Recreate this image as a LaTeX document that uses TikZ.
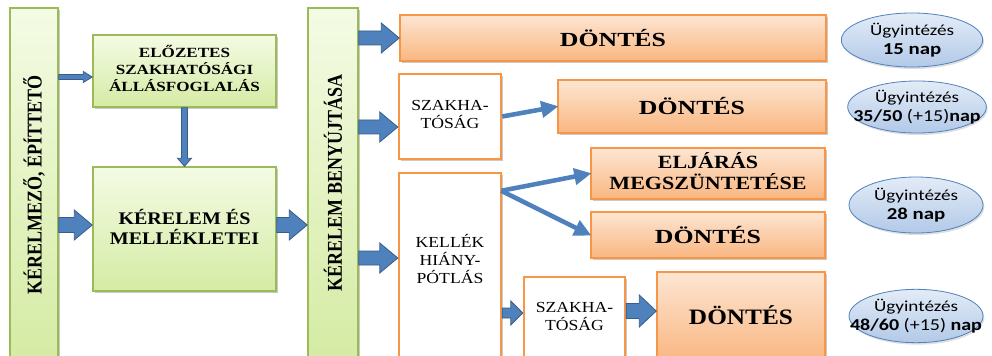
\documentclass[tikz,border=0pt]{standalone}
\usepackage{fontspec}
\usepackage{graphicx}
\setmainfont{Liberation Serif}
\newfontfamily\calib{Carlito}
\usetikzlibrary{shadows,calc,fit,arrows.meta,shapes.geometric}
\definecolor{gborder}{HTML}{9BBB59}
\definecolor{gtop}{HTML}{F4FBE4}
\definecolor{gbot}{HTML}{D5EBA4}
\definecolor{oborder}{HTML}{F79646}
\definecolor{otop}{HTML}{FDE6D3}
\definecolor{obot}{HTML}{F9B680}
\definecolor{bfill}{HTML}{4F81BD}
\definecolor{bline}{HTML}{385D8A}
\definecolor{etop}{HTML}{E3ECF7}
\definecolor{ebot}{HTML}{B2C9E8}
\newcommand\hs[2]{\scalebox{#1}[1]{#2}}
% horizontal block arrow: start, end, body half, head half, head length
\newcommand\harrow[5]{\draw[blockarr] ($(#1)+(0,#3)$) -- ($(#2)+(-#5,#3)$) -- ($(#2)+(-#5,#4)$) -- (#2) -- ($(#2)+(-#5,-#4)$) -- ($(#2)+(-#5,-#3)$) -- ($(#1)+(0,-#3)$) -- cycle;}
% vertical (downward) block arrow
\newcommand\varrow[5]{\draw[blockarr] ($(#1)+(#3,0)$) -- ($(#2)+(#3,-#5)$) -- ($(#2)+(#4,-#5)$) -- (#2) -- ($(#2)+(-#4,-#5)$) -- ($(#2)+(-#3,-#5)$) -- ($(#1)+(-#3,0)$) -- cycle;}
\begin{document}
\begin{tikzpicture}[x=0.75pt,y=-0.75pt,
  box/.style={inner sep=0pt, drop shadow={opacity=0.35,shadow xshift=1.5pt,shadow yshift=-1.5pt,fill=black!60}},
  greenbox/.style={box, draw=gborder, line width=1.1pt, top color=gtop, bottom color=gbot, align=center},
  orangebox/.style={box, draw=oborder, line width=1.1pt, top color=otop, bottom color=obot, align=center},
  whitebox/.style={box, draw=oborder, line width=1.8pt, fill=white, align=center},
  ell/.style={ellipse, draw=bfill, line width=0.6pt, top color=etop, bottom color=ebot, inner sep=0pt,
     drop shadow={opacity=0.25,shadow xshift=1pt,shadow yshift=-1.5pt}},
  elltext/.style={align=center, inner sep=0pt, font=\calib\fontsize{11.5}{14.5}\selectfont},
  blockarr/.style={fill=bfill, draw=bline, line width=0.6pt, line join=miter},
  thinarr/.style={draw=bfill, line width=3.4pt, -{Triangle[length=13pt,width=12pt]}, shorten >=-1pt},
  dtext/.style={font=\bfseries\fontsize{15}{18}\selectfont}
]
\useasboundingbox (0,0) rectangle (992,356);
\fill[white] (0,0) rectangle (992,356);

% left column
\node[greenbox, fit={(10,8) (58,360)}] (bar1) {};
\node at (bar1.center |- 0,185) {\rotatebox{90}{\scalebox{1}[1.17]{\bfseries\fontsize{13.5}{16}\selectfont KÉRELMEZŐ, ÉPÍTTETŐ}}};
\node[greenbox, fit={(93,35) (276,107)}] (pre) {};
\node at (pre.center) {\hs{1.22}{\begin{tabular}{@{}c@{}}\bfseries\fontsize{10.5}{12}\selectfont ELŐZETES\\[0pt]\bfseries\fontsize{10.5}{12}\selectfont SZAKHATÓSÁGI\\\bfseries\fontsize{10.5}{12}\selectfont ÁLLÁSFOGLALÁS\end{tabular}}};
\node[greenbox, fit={(93,167) (276,291)}] (ker) {};
\node at (ker.center) {\hs{1.13}{\begin{tabular}{@{}c@{}}\bfseries\fontsize{13.3}{16.5}\selectfont KÉRELEM ÉS\\\bfseries\fontsize{13.3}{16.5}\selectfont MELLÉKLETEI\end{tabular}}};
\node[greenbox, fit={(308,8) (358,360)}] (bar2) {};
\node at (bar2.center |- 0,183) {\rotatebox{90}{\scalebox{1}[1.17]{\bfseries\fontsize{13.5}{16}\selectfont KÉRELEM BENYÚJTÁSA}}};

% right side boxes
\node[orangebox, fit={(400,15) (826,61)}] (d1) {};
\node[dtext] at (d1.center) {\hs{1.29}{DÖNTÉS}};
\node[whitebox, fit={(399,74) (501,159)}] (sz1) {};
\node at (sz1.center) {\hs{1.15}{\begin{tabular}{@{}c@{}}\fontsize{11.5}{12.5}\selectfont SZAKHA-\\\fontsize{11.5}{12.5}\selectfont TÓSÁG\end{tabular}}};
\node[orangebox, fit={(558,80) (826,133)}] (d2) {};
\node[dtext] at (d2.center) {\hs{1.29}{DÖNTÉS}};
\node[whitebox, fit={(399,173) (501,362)}] (kel) {};
\node at (399+51,261) (keltext) {\hs{1.15}{\begin{tabular}{@{}c@{}}\fontsize{11.5}{13}\selectfont KELLÉK\\\fontsize{11.5}{13}\selectfont HIÁNY-\\\fontsize{11.5}{13}\selectfont PÓTLÁS\end{tabular}}};
\node[orangebox, fit={(591,148) (825,199)}] (elj) {};
\node at (elj.center) {\hs{1.18}{\begin{tabular}{@{}c@{}}\bfseries\fontsize{14}{17}\selectfont ELJÁRÁS\\\bfseries\fontsize{14}{17}\selectfont MEGSZÜNTETÉSE\end{tabular}}};
\node[orangebox, fit={(591,212) (825,258)}] (d3) {};
\node[dtext] at (d3.center) {\hs{1.29}{DÖNTÉS}};
\node[whitebox, fit={(524,277) (625,362)}] (sz2) {};
\node at (574.5,318) (sz2text) {\hs{1.15}{\begin{tabular}{@{}c@{}}\fontsize{11.5}{12.5}\selectfont SZAKHA-\\\fontsize{11.5}{12.5}\selectfont TÓSÁG\end{tabular}}};
\node[orangebox, fit={(657,272) (825,362)}] (d4) {};
\node[font=\bfseries\fontsize{16.5}{19}\selectfont] at (741,315) {\hs{1.15}{DÖNTÉS}};

% ellipses
\node[ell, minimum width=106pt, minimum height=40.5pt] (e1) at (912,40) {};
\node[elltext] at (e1.center) {\hs{1.25}{Ügyintézés}\\\hs{1.25}{\bfseries\fontsize{12.5}{14.5}\selectfont 15 nap}};
\node[ell, minimum width=104pt, minimum height=39pt] (e2) at (917,107) {};
\node[elltext] at (e2.center) {\hs{1.25}{Ügyintézés}\\\hs{1.2}{\fontsize{12.5}{14.5}\selectfont\textbf{35/50} (+15)\textbf{nap}}};
\node[ell, minimum width=100.5pt, minimum height=42pt] (e3) at (916,205) {};
\node[elltext] at (e3.center) {\hs{1.25}{Ügyintézés}\\\hs{1.25}{\bfseries\fontsize{12.5}{14.5}\selectfont 28 nap}};
\node[ell, minimum width=100.5pt, minimum height=40pt] (e4) at (916,316) {};
\node[elltext] at (e4.center) {\hs{1.25}{Ügyintézés}\\\hs{1.2}{\fontsize{12.5}{14.5}\selectfont\textbf{48/60} (+15) \textbf{nap}}};

% block arrows
\coordinate (a1s) at (bar1.east |- 0,77);  \coordinate (a1e) at (pre.west |- 0,77);
\harrow{a1s}{a1e}{2.5}{5.5}{9}
\coordinate (a2s) at (pre.south);  \coordinate (a2e) at (ker.north);
\varrow{a2s}{a2e}{3}{7}{8}
\coordinate (a3s) at (bar1.east |- 0,225); \coordinate (a3e) at (ker.west |- 0,225);
\harrow{a3s}{a3e}{7.5}{15}{18}
\coordinate (a4s) at (ker.east |- 0,225); \coordinate (a4e) at (bar2.west |- 0,225);
\harrow{a4s}{a4e}{7.5}{15}{18}
\coordinate (a5s) at (bar2.east |- d1.west); \coordinate (a5e) at (d1.west);
\harrow{a5s}{a5e}{7}{15}{18}
\coordinate (a6s) at (bar2.east |- 0,127); \coordinate (a6e) at (sz1.west |- 0,127);
\harrow{a6s}{a6e}{7}{15}{18}
\coordinate (a7s) at (bar2.east |- 0,258); \coordinate (a7e) at (kel.west |- 0,258);
\harrow{a7s}{a7e}{7}{15}{18}
\coordinate (a8s) at (kel.east |- 0,313); \coordinate (a8e) at (sz2.west |- 0,313);
\harrow{a8s}{a8e}{5}{12}{12}
\coordinate (a9s) at (sz2.east |- 0,311); \coordinate (a9e) at (d4.west |- 0,311);
\harrow{a9s}{a9e}{7.5}{16}{17}

% thin arrows
\draw[thinarr] (sz1.east) -- (d2.west);
\coordinate (ks) at ($(kel.north east)+(-1,19)$);
\draw[thinarr] (ks) -- (elj.west);
\draw[thinarr] (ks) -- (d3.west);
\end{tikzpicture}
\end{document}
